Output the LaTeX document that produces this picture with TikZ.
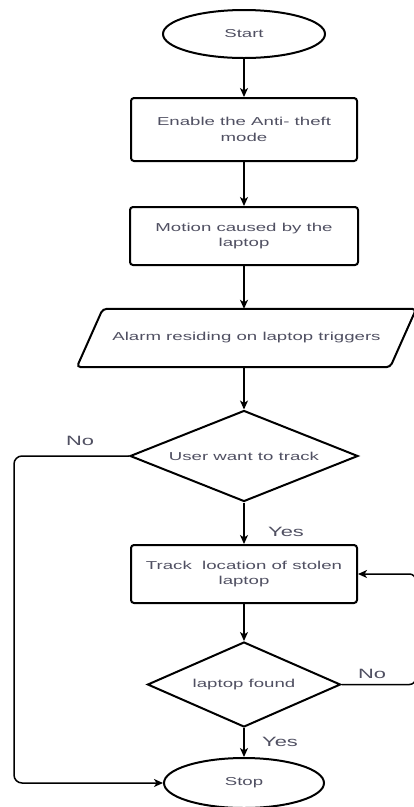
\documentclass[tikz,border=0pt]{standalone}
\usepackage{fontspec}
\setmainfont{Liberation Sans}[FakeStretch=1.62]
\usetikzlibrary{shapes.geometric,arrows.meta}
\definecolor{txt}{RGB}{80,80,98}
\begin{document}
\begin{tikzpicture}[x=1pt,y=-1pt,
  every node/.style={text=txt, font=\fontsize{11.5}{15.5}\selectfont, align=center},
  proc/.style={draw=black, line width=2pt, rounded corners=3pt, minimum width=226pt, minimum height=58pt, inner sep=0pt},
  term/.style={draw=black, ellipse, line width=2pt, minimum width=162pt, minimum height=48pt, inner sep=0pt},
  dec/.style={draw=black, diamond, line width=2pt, inner sep=0pt},
  arr/.style={draw=black, line width=1.5pt, -{Stealth[length=9pt,width=8pt,inset=2.5pt]}},
  lbl/.style={font=\fontsize{13.5}{16}\selectfont}]
\clip (0,0) rectangle (414,807);
\fill[white] (0,0) rectangle (414,807);
\node[term] (start) at (244,34) {Start};
\node[proc, minimum height=63pt] (b1) at (244,129.5) {Enable the Anti- theft\\mode};
\node[proc, minimum width=228pt] (b2) at (244,236) {Motion caused by the\\laptop};
\node[minimum width=313pt, minimum height=58pt, inner sep=0pt] (alarm) at (246.5,338) {Alarm residing on laptop triggers};
\draw[line width=2pt, rounded corners=4pt] ([xshift=13pt]alarm.north west) -- ([xshift=13pt]alarm.north east) -- ([xshift=-13pt]alarm.south east) -- ([xshift=-13pt]alarm.south west) -- cycle;
\node[dec, aspect=2.5, minimum width=228pt, minimum height=91pt] (d1) at (244,456) {User want to track};
\node[proc] (b3) at (244,574) {Track\ \ location of stolen\\laptop};
\node[dec, aspect=2.27, minimum width=193pt, minimum height=85pt] (d2) at (244,684.5) {laptop found};
\node[term, minimum width=160pt, minimum height=50pt] (stop) at (244,783) {Stop};
\draw[arr] (start) -- (b1);
\draw[arr] (b1) -- (b2);
\draw[arr] (b2.south) -- (b2.south |- alarm.north);
\draw[arr] (d1.north |- alarm.south) -- (d1.north);
\draw[arr] (d1) -- (b3);
\draw[arr] (b3) -- (d2);
\draw[arr] (d2) -- (stop);
\draw[arr, rounded corners=8pt] (d1.west) -- ++(-115,0) |- (stop.west);
\draw[arr, rounded corners=6pt] (d2.east) -- ++(74,0) |- (b3.east);
\node[lbl] (no1) at (80,441) {No};
\node[lbl] (yes1) at (286,532) {Yes};
\node[lbl] (no2) at (372,674) {No};
\node[lbl] (yes2) at (280,742) {Yes};
\end{tikzpicture}
\end{document}
